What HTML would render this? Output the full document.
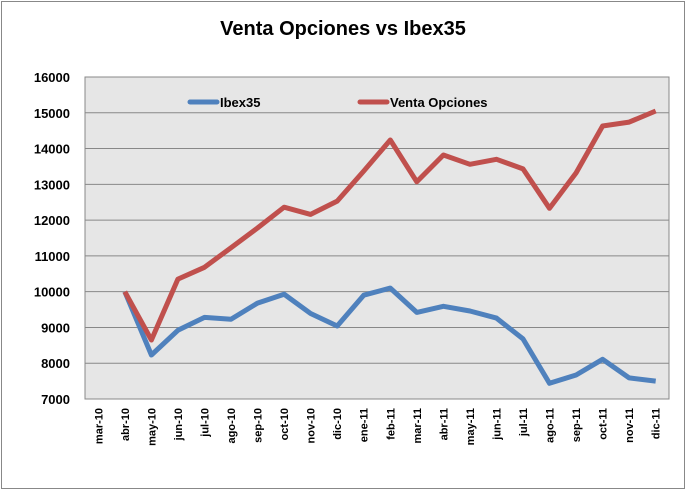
<!DOCTYPE html>
<html><head><meta charset="utf-8"><style>
body{margin:0;background:#fff;width:687px;height:492px;overflow:hidden;font-family:"Liberation Sans",sans-serif}
</style></head><body>
<svg width="687" height="492" id="chart">
<rect x="1.5" y="1.5" width="683" height="487" fill="#fff" stroke="#888"/>
<text x="343" y="35" text-anchor="middle" font-size="20" font-weight="bold">Venta Opciones vs Ibex35</text>
<rect x="85" y="77" width="584" height="322" fill="#e6e6e6" stroke="#888"/>
<g id="grid"></g><g id="ylabels"></g><g id="xlabels"></g><g id="series"></g>
<g>
<line x1="190" y1="102" x2="217" y2="102" stroke="#4f81bd" stroke-width="5" stroke-linecap="round"/>
<text x="220" y="107" font-size="13" font-weight="bold">Ibex35</text>
<line x1="360" y1="102" x2="387" y2="102" stroke="#c0504d" stroke-width="5" stroke-linecap="round"/>
<text x="390" y="107" font-size="13" font-weight="bold">Venta Opciones</text>
</g>
</svg>
<script>
const categories=["mar-10","abr-10","may-10","jun-10","jul-10","ago-10","sep-10","oct-10","nov-10","dic-10","ene-11","feb-11","mar-11","abr-11","may-11","jun-11","jul-11","ago-11","sep-11","oct-11","nov-11","dic-11"];
const ibex=[null,10000,8230,8920,9280,9230,9680,9930,9390,9040,9900,10100,9420,9590,9460,9260,8680,7440,7670,8110,7590,7500];
const venta=[null,10000,8650,10350,10680,11230,11780,12360,12160,12530,13370,14240,13070,13820,13560,13700,13430,12330,13320,14630,14740,15050];
const yTicks=[7000,8000,9000,10000,11000,12000,13000,14000,15000,16000];
const NS="http://www.w3.org/2000/svg";
const L=85,R=669,T=77,B=399,yMin=7000,yMax=16000;
const step=(R-L)/categories.length;
const xs=i=>L+step*(i+0.5);
const ys=v=>B-(v-yMin)/(yMax-yMin)*(B-T);
function mk(t,a,p){const e=document.createElementNS(NS,t);for(const k in a)e.setAttribute(k,a[k]);p.appendChild(e);return e;}
const grid=document.getElementById('grid'),yl=document.getElementById('ylabels'),xl=document.getElementById('xlabels'),se=document.getElementById('series');
yTicks.forEach(v=>{
 if(v>yMin&&v<yMax){const g=mk('line',{x1:L,x2:R,y1:ys(v),y2:ys(v),stroke:'#888'},grid);
 
 }
 const t=mk('text',{x:L-15,y:ys(v)+5,'text-anchor':'end','font-size':13,'font-weight':'bold'},yl);
 t.textContent=v;
 
 
});
categories.forEach((c,i)=>{
 const x=xs(i),y=408;
 const t=mk('text',{x:x,y:y,transform:`rotate(-90 ${x} ${y})`,'text-anchor':'end','font-size':11,'font-weight':'bold',dy:'4'},xl);
 t.textContent=c;
 
 
});
function line(arr,color,name){
 const pts=[];arr.forEach((v,i)=>{if(v!=null)pts.push(xs(i).toFixed(1)+','+ys(v).toFixed(1));});
 const p=mk('polyline',{points:pts.join(' '),fill:'none',stroke:color,'stroke-width':5,'stroke-linejoin':'round'},se);
 
 
}
line(ibex,'#4f81bd','ibex35-line');
line(venta,'#c0504d','venta-opciones-line');
</script>
</body></html>
